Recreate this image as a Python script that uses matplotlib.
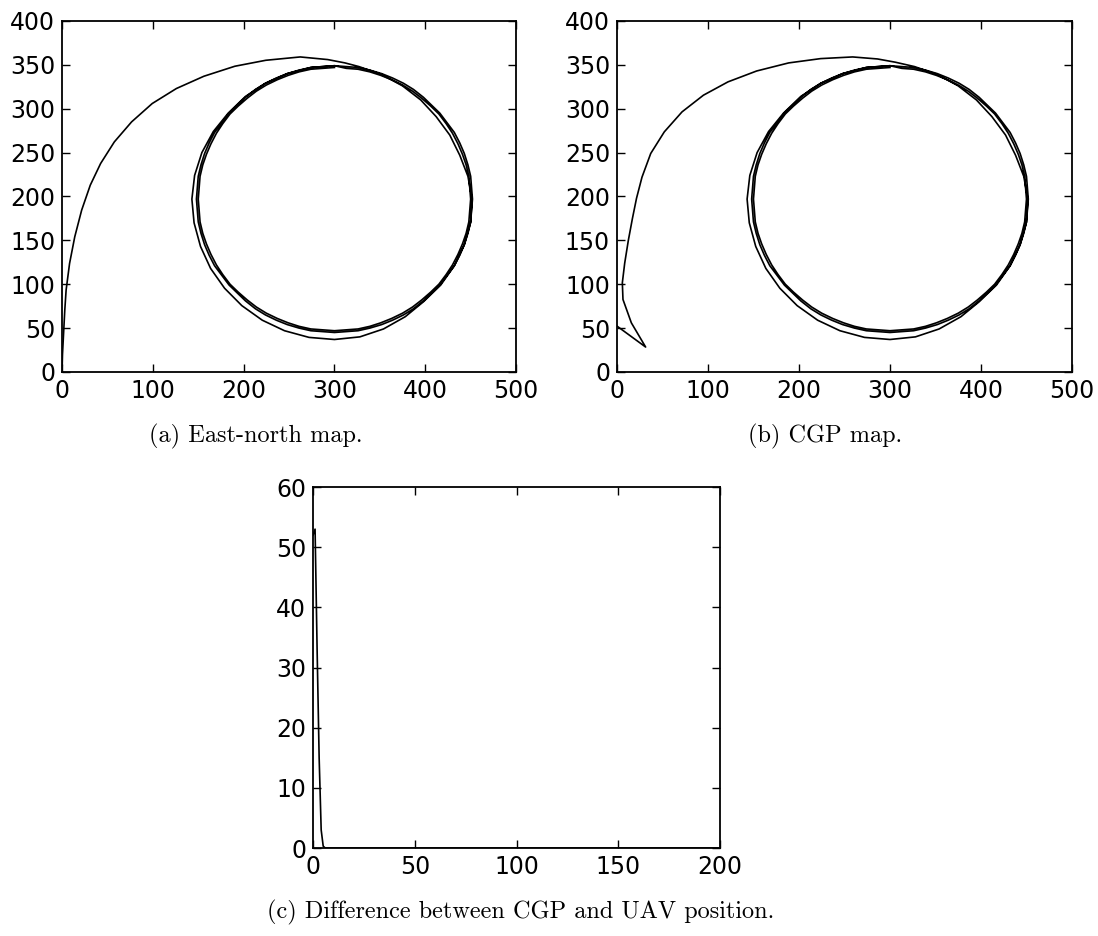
import numpy as np
import matplotlib
matplotlib.use("Agg")
import matplotlib.pyplot as plt

# UAV approach from the origin up to the loiter circle (east, north in m)
uav_east_start = [0, 0.5, 1.9, 3, 4.5, 8.3, 14, 21.6, 31.1, 42.5, 57.6, 76.6, 99.3, 125.9,
                  156.2, 190.3, 224.4, 262.3, 292.6, 311.6]
uav_north_start = [0, 20, 47.8, 70, 93.4, 123.7, 154, 184.4, 212.9, 237.6, 262.2, 285, 305.9, 323,
                   337, 348.4, 355.2, 359, 356, 352.2]

# CGP approach, starting off the axis and swinging back before the arc
cgp_east_start = [0, 31.5, 15.8, 6.6, 5.9, 8.5, 12.5, 17, 21.5, 27.5, 37.1, 52, 71.5, 95, 122,
                  153.5, 188.7, 223.8, 259, 286.3, 305.9]
cgp_north_start = [52.3, 28.4, 56, 82.6, 101.6, 124, 150, 175, 198, 222, 249, 273.6, 296.4, 315.4,
                   330.6, 343, 352.2, 357.1, 359, 356.7, 353]

# first turn around the loiter point, still settling
loop1_east = [327, 352, 375, 395, 412, 427, 438, 447, 451.5, 450, 443, 432, 417, 398, 378, 354,
              328, 300, 272, 245, 220.5, 198, 179, 163.6, 152.5, 145.4, 143, 146, 154, 166.6,
              183, 202, 224, 248, 274, 300]
loop1_north = [348, 339, 326, 310, 291, 270, 247, 223, 197, 170.5, 145, 121, 99, 80, 63, 49,
               40, 37, 39.4, 47, 59, 75.6, 95.4, 118, 143, 170, 197, 224, 250, 274,
               295, 314, 329, 340, 347, 349]

# settled laps
lapA_east = [313, 326, 339, 352, 364, 376, 387, 398, 407, 416, 424, 432, 438, 443, 447, 450,
             451, 452, 451, 450, 447, 443, 438, 432, 424, 416, 407, 398, 387, 376, 364, 352,
             339, 326, 313, 300, 287, 274, 261, 248, 236, 224, 213, 202, 193, 184, 176, 168,
             162, 157, 153, 150, 149, 148, 149, 150, 153, 157, 162, 168, 176, 184, 193, 202,
             213, 224, 236, 248, 261, 274, 287, 300]
lapA_north = [348, 347, 344, 340, 335, 329, 322, 313, 304, 295, 284, 273, 261, 249, 236, 223,
              210, 197, 184, 171, 158, 145, 133, 121, 110, 99, 90, 81, 72, 65, 59, 54,
              50, 47, 46, 45, 46, 47, 50, 54, 59, 65, 72, 81, 90, 99, 110, 121,
              133, 145, 158, 171, 184, 197, 210, 223, 236, 249, 261, 273, 284, 295, 304, 313,
              322, 329, 335, 340, 344, 347, 348, 349]
lapB_east = [313, 326, 339, 351, 363, 375, 386, 396, 406, 415, 423, 430, 436, 441, 445, 448,
             449, 450, 449, 448, 445, 441, 436, 430, 423, 415, 406, 396, 386, 375, 363, 351,
             339, 326, 313, 300, 287, 274, 261, 249, 237, 225, 214, 204, 194, 185, 177, 170,
             164, 159, 155, 152, 151, 150, 151, 152, 155, 159, 164, 170, 177, 185, 194, 204,
             214, 225, 237, 249, 261, 274, 287, 300]
lapB_north = [346, 345, 342, 338, 333, 327, 320, 312, 303, 294, 283, 272, 260, 248, 236, 223,
              210, 197, 184, 171, 158, 146, 134, 122, 111, 100, 91, 82, 74, 67, 61, 56,
              52, 49, 48, 47, 48, 49, 52, 56, 61, 67, 74, 82, 91, 100, 111, 122,
              134, 146, 158, 171, 184, 197, 210, 223, 236, 248, 260, 272, 283, 294, 303, 312,
              320, 327, 333, 338, 342, 345, 346, 347]

# distance between CGP and UAV over time
diff_t = list(range(0, 200))
diff_d = [52, 53, 33, 15, 3, 0.3] + [0] * 194


def track(east0, north0):
    east = east0 + loop1_east + lapA_east + lapB_east
    north = north0 + loop1_north + lapA_north + lapB_north
    return east, north


def style(ax):
    ax.tick_params(direction="in", length=6, width=1, top=True, right=True,
                   labelsize=17, pad=5)
    for s in ax.spines.values():
        s.set_linewidth(1.3)


fig = plt.figure(figsize=(10.98, 9.36), dpi=100)

ax1 = fig.add_axes([0.0565, 0.6026, 0.4135, 0.375])
e, n = track(uav_east_start, uav_north_start)
ax1.plot(e, n, color="black", linewidth=1.2)
ax1.set_xlim(0, 500)
ax1.set_ylim(0, 400)
ax1.set_xticks(range(0, 501, 100))
ax1.set_yticks(range(0, 401, 50))
style(ax1)

ax2 = fig.add_axes([0.5619, 0.6026, 0.4144, 0.375])
e, n = track(cgp_east_start, cgp_north_start)
ax2.plot(e, n, color="black", linewidth=1.2)
ax2.set_xlim(0, 500)
ax2.set_ylim(0, 400)
ax2.set_xticks(range(0, 501, 100))
ax2.set_yticks(range(0, 401, 50))
style(ax2)

ax3 = fig.add_axes([0.2851, 0.0940, 0.3707, 0.3857])
ax3.plot(diff_t, diff_d, color="black", linewidth=1.2)
ax3.set_xlim(0, 200)
ax3.set_ylim(0, 60)
ax3.set_xticks(range(0, 201, 50))
ax3.set_yticks(range(0, 61, 10))
style(ax3)

cap = dict(family="cmr10", fontsize=17.5, ha="center", va="center")
fig.text(256 / 1098, 1 - 436 / 936, "(a) East-north map.", **cap)
fig.text(825 / 1098, 1 - 436 / 936, "(b) CGP map.", **cap)
fig.text(521 / 1098, 1 - 912 / 936, "(c) Difference between CGP and UAV position.", **cap)

fig.savefig("out.png", dpi=100)
